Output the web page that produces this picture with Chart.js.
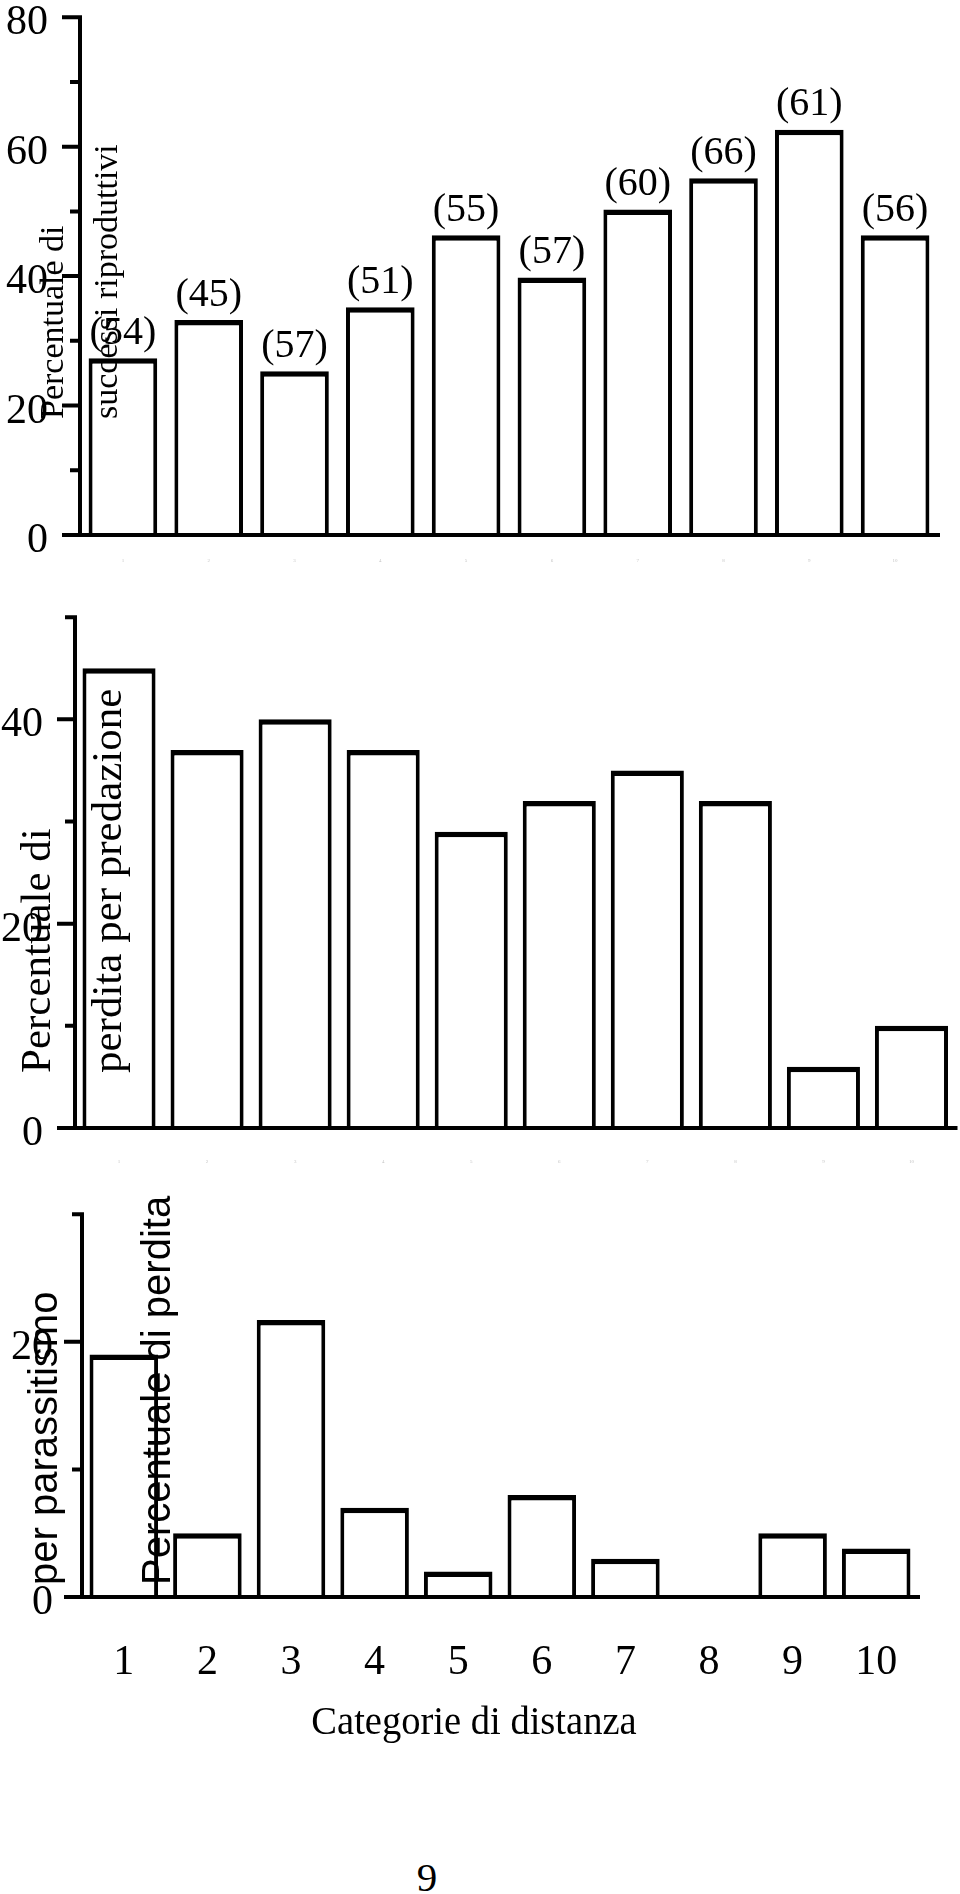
<!DOCTYPE html>
<html lang="it">
<head>
<meta charset="utf-8">
<title>Categorie di distanza</title>
<script src="https://cdn.jsdelivr.net/npm/chart.js@4.4.1/dist/chart.umd.min.js"></script>
<style>
  body { margin: 0; background: #fff; }
  #pagina { position: relative; width: 960px; height: 1894px; overflow: hidden; background: #fff; }
  #pagina canvas { position: absolute; left: 0; }
  .testo { position: absolute; font-family: 'Liberation Serif', 'Times New Roman', serif; color: #000; white-space: nowrap; }
</style>
</head>
<body>
<div id="pagina">
  <canvas id="g1" width="960" height="640" style="top:-40px"></canvas>
  <canvas id="g2" width="960" height="640" style="top:560px"></canvas>
  <canvas id="g3" width="960" height="620" style="top:1160px"></canvas>
  <div class="testo" style="left:0;width:948px;text-align:center;top:1697px;font-size:41px;line-height:46px;transform:scaleX(0.94)">Categorie di distanza</div>
  <div class="testo" style="left:0;width:854px;text-align:center;top:1854px;font-size:41px;line-height:46px">9</div>
</div>
<script>
// dati
const categorie = ['1', '2', '3', '4', '5', '6', '7', '8', '9', '10'];
const successi = [27.3, 33.2, 25.3, 35.2, 46.3, 39.8, 50.3, 55.1, 62.6, 46.3];
const campioni = ['(54)', '(45)', '(57)', '(51)', '(55)', '(57)', '(60)', '(66)', '(61)', '(56)'];
const predazione = [45, 37, 40, 37, 29, 32, 35, 32, 6, 10];
const parassitismo = [19, 5, 21.7, 7, 2, 8, 3, 0, 5, 3.8];
const massimi = [80, 50, 30];
const passo = 10;          // tacche
const passoEtichette = 20; // tacche con numero

const serif = "'Liberation Serif', 'Times New Roman', serif";
const sans = "'Liberation Sans', Arial, sans-serif";
Chart.defaults.font.family = serif;
Chart.defaults.color = '#000';

// assi disegnati a mano: tacche lunghe e corte, linea dello zero che sporge a sinistra
const assi = {
    id: 'assi',
    afterDatasetsDraw(chart) {
        const { ctx, chartArea: a, scales: { y } } = chart;
        const x0 = a.left;
        const y0 = y.getPixelForValue(0);
        ctx.save();
        ctx.strokeStyle = '#000';
        ctx.lineWidth = 4;
        ctx.beginPath();
        ctx.moveTo(x0, y.getPixelForValue(y.max) - 2);
        ctx.lineTo(x0, y0);
        y.ticks.forEach(t => {
            const py = y.getPixelForValue(t.value);
            const lung = t.value % passoEtichette === 0 ? 18 : 10;
            ctx.moveTo(x0 - lung, py);
            ctx.lineTo(x0, py);
        });
        ctx.moveTo(x0 - 18, y0);
        ctx.lineTo(a.right + 2, y0);
        ctx.stroke();
        ctx.restore();
    }
};

// titoli verticali sopra le barre
const titoli = {
    id: 'titoli',
    afterDraw(chart, args, opts) {
        const ctx = chart.ctx;
        (opts.righe || []).forEach(r => {
            ctx.save();
            ctx.translate(r.x, r.y);
            ctx.rotate(-Math.PI / 2);
            ctx.font = r.font;
            ctx.fillStyle = '#000';
            ctx.textAlign = 'left';
            ctx.textBaseline = 'alphabetic';
            ctx.fillText(r.testo, 0, 0);
            ctx.restore();
        });
    }
};

// numeri tra parentesi sopra le barre
const numeri = {
    id: 'numeri',
    afterDatasetsDraw(chart, args, opts) {
        const ctx = chart.ctx;
        const meta = chart.getDatasetMeta(0);
        ctx.save();
        ctx.font = '40px ' + serif;
        ctx.fillStyle = '#000';
        ctx.textAlign = 'center';
        ctx.textBaseline = 'middle';
        meta.data.forEach((barra, i) => {
            ctx.fillText(opts.testi[i], barra.x, barra.y - 25);
        });
        ctx.restore();
    }
};

function grafico(id, dati, cfg) {
    return new Chart(document.getElementById(id), {
        type: 'bar',
        data: {
            labels: categorie,
            datasets: [{
                data: dati,
                backgroundColor: '#fff',
                borderColor: '#000',
                borderWidth: { top: 5.5, left: 4, right: 4, bottom: 0 },
                barPercentage: cfg.barra,
                categoryPercentage: 1
            }]
        },
        options: {
            responsive: false,
            animation: false,
            devicePixelRatio: 1,
            layout: { padding: cfg.padding },
            plugins: {
                legend: { display: false },
                tooltip: { enabled: false },
                titoli: { righe: cfg.titoli },
                numeri: cfg.numeri || false
            },
            scales: {
                x: {
                    grid: { display: false, drawTicks: false },
                    border: { display: false },
                    ticks: Object.assign({ autoSkip: false, maxRotation: 0 }, cfg.ticksX),
                    afterFit: s => { s.height = cfg.altezzaX; }
                },
                y: {
                    min: 0,
                    max: cfg.max,
                    grid: { display: false, drawTicks: false },
                    border: { display: false },
                    ticks: {
                        stepSize: passo,
                        padding: cfg.padY,
                        labelOffset: 6,
                        color: '#000',
                        font: { size: 42 },
                        callback: v => (v % passoEtichette === 0 ? v : '')
                    },
                    afterFit: s => { s.width = cfg.sinistra; }
                }
            }
        },
        plugins: [assi, titoli, numeri]
    });
}

const minuscole = { font: { size: 5 }, color: '#c4c4c4' };

// 1. successi riproduttivi (canvas a -40)
grafico('g1', successi, {
    max: massimi[0], sinistra: 80, altezzaX: 40, padY: 32, barra: 0.8,
    padding: { top: 51, right: 22, bottom: 25, left: 0 },
    ticksX: Object.assign({ padding: 23 }, minuscole),
    numeri: { testi: campioni },
    titoli: [
        { testo: 'Percentuale di', x: 63, y: 459, font: '34px ' + serif },
        { testo: 'successi riproduttivi', x: 117, y: 459, font: '34px ' + serif }
    ]
});

// 2. perdita per predazione (canvas a 560)
grafico('g2', predazione, {
    max: massimi[1], sinistra: 75, altezzaX: 40, padY: 32, barra: 0.83,
    padding: { top: 54, right: 4.5, bottom: 32, left: 0 },
    ticksX: Object.assign({ padding: 31 }, minuscole),
    titoli: [
        { testo: 'Percentuale di', x: 50, y: 513, font: '43px ' + serif },
        { testo: 'perdita per predazione', x: 121, y: 513, font: '43px ' + serif }
    ]
});

// 3. perdita per parassitismo (canvas a 1160)
grafico('g3', parassitismo, {
    max: massimi[2], sinistra: 82, altezzaX: 100, padY: 29, barra: 0.82,
    padding: { top: 48.5, right: 42, bottom: 83, left: 0 },
    ticksX: { padding: 41, color: '#000', font: { size: 42 } },
    titoli: [
        { testo: 'per parassitismo', x: 57, y: 425, font: '40px ' + sans },
        { testo: 'Percentuale di perdita', x: 170, y: 425, font: '40px ' + sans }
    ]
});
</script>
</body>
</html>
